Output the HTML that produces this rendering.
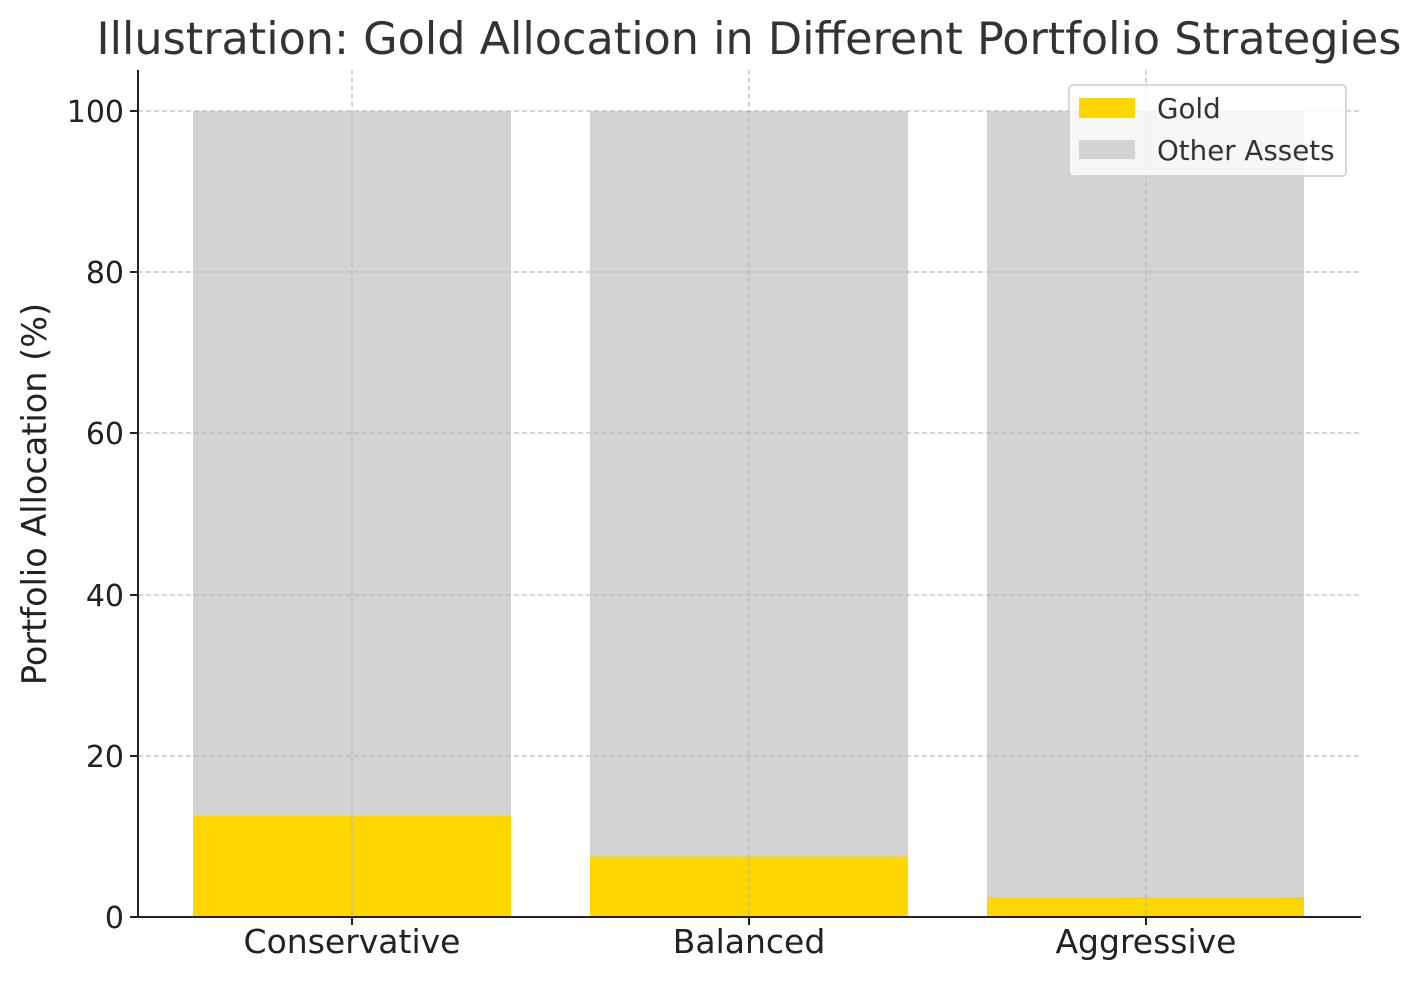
<!DOCTYPE html>
<html><head><style>body{margin:0;background:#fff}</style></head><body>
<svg width="1422" height="980" xmlns="http://www.w3.org/2000/svg" font-family="DejaVu Sans, Liberation Sans, sans-serif">
<rect width="1422" height="980" fill="#fff"/>
<text x="749" y="54" font-size="44.5" text-anchor="middle" fill="#333">Illustration: Gold Allocation in Different Portfolio Strategies</text>
<g fill="#d3d3d3">
<rect x="193" y="111" width="318" height="806"/>
<rect x="590" y="111" width="318" height="806"/>
<rect x="987" y="111" width="317" height="806"/>
</g>
<g fill="#ffd700">
<rect x="193" y="816" width="318" height="101"/>
<rect x="590" y="856.5" width="318" height="60.5"/>
<rect x="987" y="897" width="317" height="20"/>
</g>
<g stroke="#b0b0b0" stroke-width="1.3" stroke-dasharray="5,3" opacity="0.8">
<line x1="138" x2="1360" y1="756" y2="756"/>
<line x1="138" x2="1360" y1="595" y2="595"/>
<line x1="138" x2="1360" y1="433" y2="433"/>
<line x1="138" x2="1360" y1="272" y2="272"/>
<line x1="138" x2="1360" y1="111" y2="111"/>
<line x1="352" x2="352" y1="70" y2="917"/>
<line x1="749" x2="749" y1="70" y2="917"/>
<line x1="1146" x2="1146" y1="70" y2="917"/>
</g>
<g stroke="#222" stroke-width="2">
<line x1="138" y1="70" x2="138" y2="918"/>
<line x1="137" y1="917" x2="1361" y2="917"/>
<line x1="130" x2="138" y1="917" y2="917"/>
<line x1="130" x2="138" y1="756" y2="756"/>
<line x1="130" x2="138" y1="595" y2="595"/>
<line x1="130" x2="138" y1="433" y2="433"/>
<line x1="130" x2="138" y1="272" y2="272"/>
<line x1="130" x2="138" y1="111" y2="111"/>
<line x1="352" x2="352" y1="917" y2="925"/>
<line x1="749" x2="749" y1="917" y2="925"/>
<line x1="1146" x2="1146" y1="917" y2="925"/>
</g>
<g font-size="30" fill="#222" text-anchor="end">
<text x="124" y="928">0</text>
<text x="124" y="767">20</text>
<text x="124" y="606">40</text>
<text x="124" y="444">60</text>
<text x="124" y="283">80</text>
<text x="124" y="122">100</text>
</g>
<g font-size="33" fill="#222" text-anchor="middle">
<text x="352" y="953">Conservative</text>
<text x="749" y="953">Balanced</text>
<text x="1146" y="953">Aggressive</text>
</g>
<text transform="translate(46,494) rotate(-90)" font-size="33.5" fill="#222" text-anchor="middle">Portfolio Allocation (%)</text>
<rect x="1069" y="85" width="277" height="91" rx="4" fill="#fff" fill-opacity="0.8" stroke="#ccc" stroke-width="1.5"/>
<rect x="1079" y="98" width="56" height="20" fill="#ffd700"/>
<rect x="1079" y="140" width="56" height="19" fill="#d3d3d3"/>
<g font-size="27.7" fill="#333">
<text x="1157" y="118">Gold</text>
<text x="1157" y="160">Other Assets</text>
</g>
</svg>
</body></html>
